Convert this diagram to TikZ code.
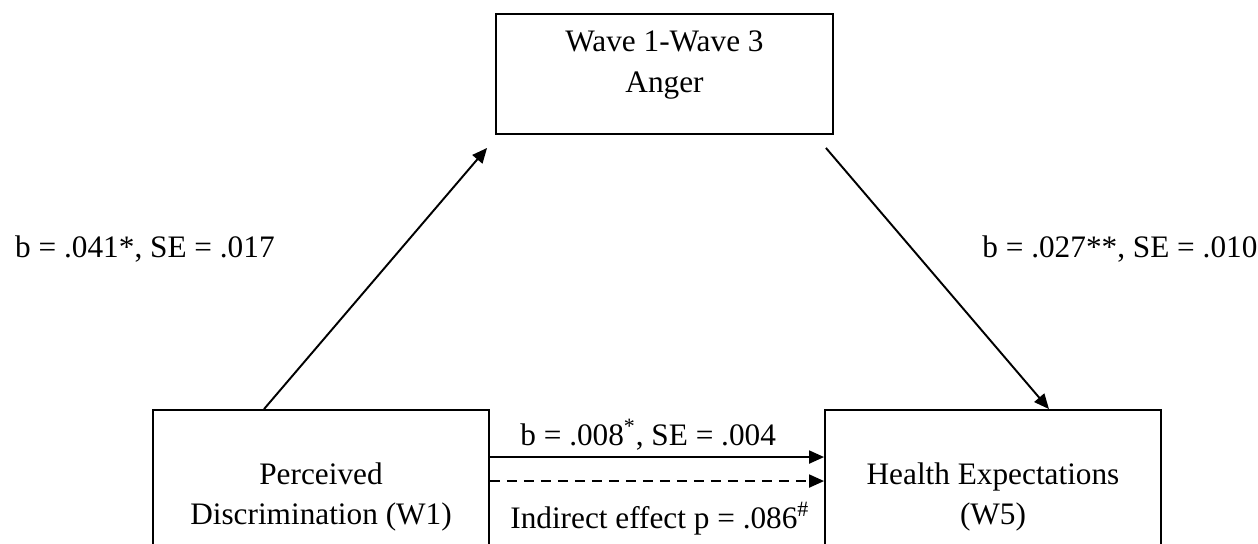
\documentclass[tikz,border=0pt]{standalone}
\usepackage{fontspec}
\setmainfont{Liberation Serif}
\usetikzlibrary{arrows.meta,calc,positioning}

\begin{document}
\begin{tikzpicture}[x=0.02cm,y=-0.02cm,
every node/.style={font=\fontsize{17.8}{22.8}\selectfont},
box/.style={draw,line width=1.1pt,minimum width=6.72cm,align=center,inner sep=0pt},
lbl/.style={inner sep=0pt},
arr/.style={line width=1.1pt,-{Triangle[length=0.3cm,width=0.26cm]}}]
\useasboundingbox (0,0) rectangle (1258,544);
\clip (0,0) rectangle (1258,544);
\node[box,minimum width=6.74cm,minimum height=2.4cm] (M) at (664.5,74) {};
\node[align=center,lbl] (Mt) at (664.5,65) {Wave 1-Wave 3\\Anger};
\node[box,minimum height=3.48cm] (X) at (321,497) {Perceived\\Discrimination (W1)};
\node[box,minimum height=3.48cm] (Y) at (993,497) {Health Expectations\\(W5)};
\node[lbl,anchor=base east] (a) at (275,257) {b = .041*, SE = .017};
\node[lbl,anchor=base west] (b) at (982,257) {b = .027**, SE = .010};
\node[lbl,anchor=base west] (c) at (520,445) {b = .008\textsuperscript{*}, SE = .004};
\node[lbl,anchor=base west] (ie) at (510,528) {Indirect effect p = .086\textsuperscript{\#}};
\draw[arr] ([xshift=2.24cm]X.north west) -- ([xshift=-0.16cm,yshift=-0.26cm]M.south west);
\draw[arr] ([xshift=-0.16cm,yshift=-0.26cm]M.south east) -- ([xshift=-2.26cm]Y.north east);
\draw[arr] ([yshift=-0.96cm]X.north east) -- ([yshift=-0.96cm]Y.north west);
\draw[arr,dash pattern=on 0.2cm off 0.14cm] ([yshift=-1.44cm]X.north east) -- ([yshift=-1.44cm]Y.north west);
\end{tikzpicture}
\end{document}
